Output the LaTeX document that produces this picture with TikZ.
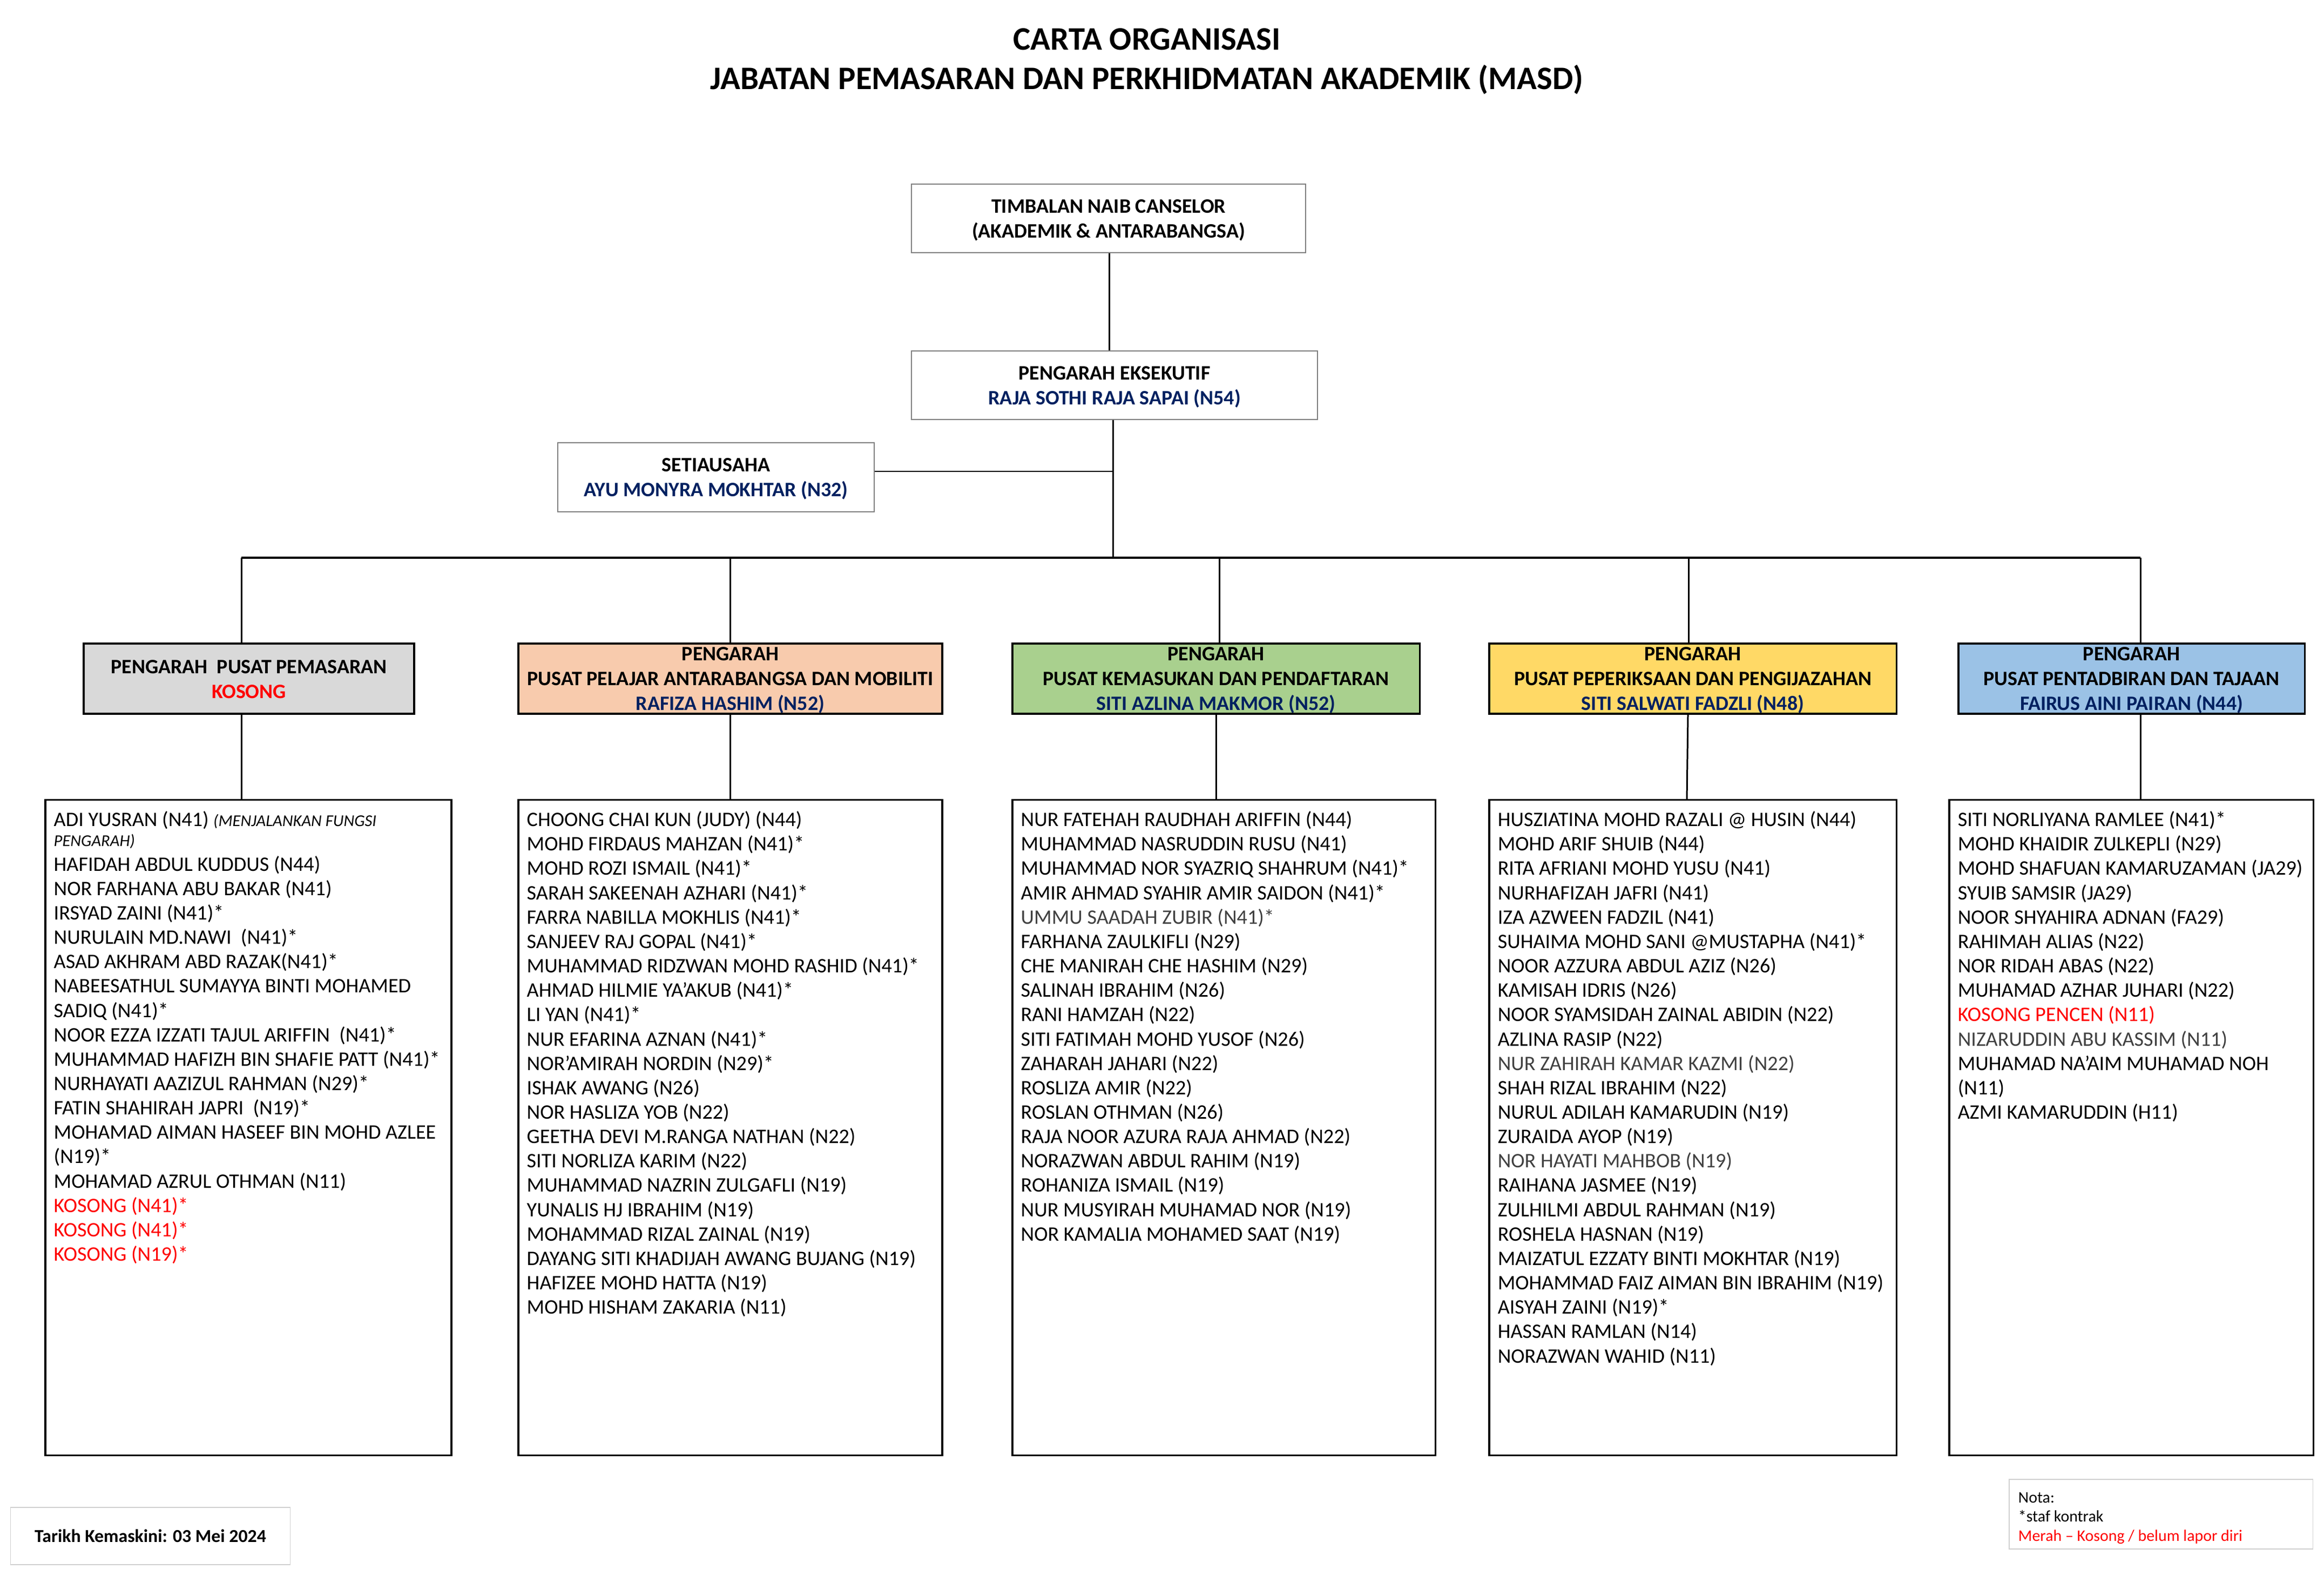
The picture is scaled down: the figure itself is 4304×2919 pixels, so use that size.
\documentclass[tikz,border=0pt]{standalone}
\usepackage{fontspec}
\setmainfont{Carlito}
\usetikzlibrary{calc}
\definecolor{navy}{HTML}{002060}
\definecolor{kred}{HTML}{FF0000}
\definecolor{dgrey}{HTML}{404040}
\definecolor{boxgrey}{HTML}{7F7F7F}
\definecolor{lightframe}{HTML}{D0D0D0}
\definecolor{fillgrey}{HTML}{D9D9D9}
\definecolor{fillpeach}{HTML}{F8CBAD}
\definecolor{fillgreen}{HTML}{A9D08E}
\definecolor{fillyellow}{HTML}{FFD966}
\definecolor{fillblue}{HTML}{9BC2E6}
\newcommand{\nm}[1]{\textcolor{navy}{#1}}
\newcommand{\kr}[1]{\textcolor{kred}{#1}}
\newcommand{\dg}[1]{\textcolor{dgrey}{#1}}
\newcommand{\fst}{\rule{0pt}{0.33cm}}
\newcommand{\hst}{\rule{0pt}{0.31cm}}
\newcommand{\hsts}{\rule{0pt}{0.27cm}}
\begin{document}
\begin{tikzpicture}[x=0.01cm,y=-0.01cm,
  hfont/.style={font=\fontsize{10.8}{13.1}\selectfont\bfseries},
  topbox/.style={draw=boxgrey, line width=0.45pt, fill=white, hfont, align=center, inner sep=0pt},
  dirbox/.style={draw=black, line width=1pt, hfont, align=center, inner sep=0pt, minimum height=1.30cm},
  staffbox/.style={draw=black, line width=1pt, inner sep=0pt, minimum height=12.13cm},
  stafftext/.style={font=\fontsize{10.85}{12.84}\selectfont, align=left, inner sep=0pt, anchor=north west},
  titletext/.style={font=\fontsize{17.3}{20}\selectfont\bfseries, anchor=base, inner sep=0pt},
  conn/.style={line width=0.85pt},
  busline/.style={line width=1.15pt},
  infobox/.style={draw=lightframe, line width=0.35pt, inner sep=0pt}
]
\useasboundingbox (0,0) rectangle (4304,2919);
\fill[white] (0,0) rectangle (4304,2919);

% title
\node[titletext] (title1) at (2124,93) {CARTA ORGANISASI};
\node[titletext] (title2) at (2124,166) {JABATAN PEMASARAN DAN PERKHIDMATAN AKADEMIK (MASD)};

% top boxes
\node[topbox, minimum width=7.30cm, minimum height=1.27cm] (tnc) at (2053,404.5)
  {\hst TIMBALAN NAIB CANSELOR\\(AKADEMIK \& ANTARABANGSA)};
\node[topbox, minimum width=7.52cm, minimum height=1.27cm] (pe) at (2064,713.5)
  {\hst PENGARAH EKSEKUTIF\\\nm{RAJA SOTHI RAJA SAPAI (N54)}};
\node[topbox, minimum width=5.86cm, minimum height=1.28cm] (se) at (1326,884)
  {\hst SETIAUSAHA\\\nm{AYU MONYRA MOKHTAR (N32)}};

% director boxes
\node[dirbox, fill=fillgrey, minimum width=6.12cm] (d1) at (461,1257)
  {\hsts PENGARAH\ \ PUSAT PEMASARAN\\\kr{KOSONG}};
\node[dirbox, fill=fillpeach, minimum width=7.85cm] (d2) at (1352.5,1257)
  {\hst PENGARAH\\PUSAT PELAJAR ANTARABANGSA DAN MOBILITI\\\nm{RAFIZA HASHIM (N52)}};
\node[dirbox, fill=fillgreen, minimum width=7.54cm] (d3) at (2252,1257)
  {\hst PENGARAH\\PUSAT KEMASUKAN DAN PENDAFTARAN\\\nm{SITI AZLINA MAKMOR (N52)}};
\node[dirbox, fill=fillyellow, minimum width=7.54cm] (d4) at (3135,1257)
  {\hst PENGARAH\\PUSAT PEPERIKSAAN DAN PENGIJAZAHAN\\\nm{SITI SALWATI FADZLI (N48)}};
\node[dirbox, fill=fillblue, minimum width=6.41cm] (d5) at (3947.5,1257)
  {\hst PENGARAH\\PUSAT PENTADBIRAN DAN TAJAAN\\\nm{FAIRUS AINI PAIRAN (N44)}};

% staff boxes
\node[staffbox, minimum width=7.52cm] (s1) at (460,2088.5) {};
\node[staffbox, minimum width=7.85cm] (s2) at (1352.5,2088.5) {};
\node[staffbox, minimum width=7.83cm] (s3) at (2266.5,2088.5) {};
\node[staffbox, minimum width=7.54cm] (s4) at (3135,2088.5) {};
\node[staffbox, minimum width=6.74cm] (s5) at (3947,2088.5) {};

% connectors
\coordinate (jt) at (2054,500);
\coordinate (jpe) at (2061,1033);
\coordinate (jse) at (2061,873);
\coordinate (j1) at (447,1033);
\coordinate (j2) at (1352,1033);
\coordinate (j3) at (2258,1033);
\coordinate (j4) at (3127,1033);
\coordinate (j5) at (3964,1033);
\coordinate (k3) at (2252,1400);
\coordinate (k4) at (3124,1400);

\draw[conn] (tnc.south -| jt) -- (pe.north -| jt);
\draw[conn] (pe.south -| jpe) -- (jpe);
\draw[conn] (se.east |- jse) -- (jse);
\draw[busline] (j1) -- (j5);
\draw[conn] (j1) -- (j1 |- d1.north);
\draw[conn] (j2) -- (j2 |- d2.north);
\draw[conn] (j3) -- (j3 |- d3.north);
\draw[conn] (j4) -- (j4 |- d4.north);
\draw[conn] (j5) -- (j5 |- d5.north);
\draw[conn] (d1.south -| j1) -- (j1 |- s1.north);
\draw[conn] (d2.south -| j2) -- (j2 |- s2.north);
\draw[conn] (d3.south -| k3) -- (k3 |- s3.north);
\draw[conn] ($(d4.south -| j4)+(-1,0)$) -- (k4 |- s4.north);
\draw[conn] (d5.south -| j5) -- (j5 |- s5.north);

% staff lists
\node[stafftext] (t1) at ($(s1.north west)+(17,17)$) {%
\fst ADI YUSRAN (N41) {\fontsize{8.7}{10}\selectfont\itshape (MENJALANKAN FUNGSI}\\[-0.078cm]
{\fontsize{8.7}{10}\selectfont\itshape PENGARAH)}\\
HAFIDAH ABDUL KUDDUS (N44)\\
NOR FARHANA ABU BAKAR (N41)\\
IRSYAD ZAINI (N41)*\\
NURULAIN MD.NAWI\ \ (N41)*\\
ASAD AKHRAM ABD RAZAK(N41)*\\
NABEESATHUL SUMAYYA BINTI MOHAMED\\
SADIQ (N41)*\\
NOOR EZZA IZZATI TAJUL ARIFFIN\ \ (N41)*\\
MUHAMMAD HAFIZH BIN SHAFIE PATT (N41)*\\
NURHAYATI AAZIZUL RAHMAN (N29)*\\
FATIN SHAHIRAH JAPRI\ \ (N19)*\\
MOHAMAD AIMAN HASEEF BIN MOHD AZLEE\\
(N19)*\\
MOHAMAD AZRUL OTHMAN (N11)\\
\kr{KOSONG (N41)*}\\
\kr{KOSONG (N41)*}\\
\kr{KOSONG (N19)*}};

\node[stafftext] (t2) at ($(s2.north west)+(17,17)$) {%
\fst CHOONG CHAI KUN (JUDY) (N44)\\
MOHD FIRDAUS MAHZAN (N41)*\\
MOHD ROZI ISMAIL (N41)*\\
SARAH SAKEENAH AZHARI (N41)*\\
FARRA NABILLA MOKHLIS (N41)*\\
SANJEEV RAJ GOPAL (N41)*\\
MUHAMMAD RIDZWAN MOHD RASHID (N41)*\\
AHMAD HILMIE YA'AKUB (N41)*\\
LI YAN (N41)*\\
NUR EFARINA AZNAN (N41)*\\
NOR'AMIRAH NORDIN (N29)*\\
ISHAK AWANG (N26)\\
NOR HASLIZA YOB (N22)\\
GEETHA DEVI M.RANGA NATHAN (N22)\\
SITI NORLIZA KARIM (N22)\\
MUHAMMAD NAZRIN ZULGAFLI (N19)\\
YUNALIS HJ IBRAHIM (N19)\\
MOHAMMAD RIZAL ZAINAL (N19)\\
DAYANG SITI KHADIJAH AWANG BUJANG (N19)\\
HAFIZEE MOHD HATTA (N19)\\
MOHD HISHAM ZAKARIA (N11)};

\node[stafftext] (t3) at ($(s3.north west)+(17,17)$) {%
\fst NUR FATEHAH RAUDHAH ARIFFIN (N44)\\
MUHAMMAD NASRUDDIN RUSU (N41)\\
MUHAMMAD NOR SYAZRIQ SHAHRUM (N41)*\\
AMIR AHMAD SYAHIR AMIR SAIDON (N41)*\\
\dg{UMMU SAADAH ZUBIR (N41)*}\\
FARHANA ZAULKIFLI (N29)\\
CHE MANIRAH CHE HASHIM (N29)\\
SALINAH IBRAHIM (N26)\\
RANI HAMZAH (N22)\\
SITI FATIMAH MOHD YUSOF (N26)\\
ZAHARAH JAHARI (N22)\\
ROSLIZA AMIR (N22)\\
ROSLAN OTHMAN (N26)\\
RAJA NOOR AZURA RAJA AHMAD (N22)\\
NORAZWAN ABDUL RAHIM (N19)\\
ROHANIZA ISMAIL (N19)\\
NUR MUSYIRAH MUHAMAD NOR (N19)\\
NOR KAMALIA MOHAMED SAAT (N19)};

\node[stafftext] (t4) at ($(s4.north west)+(17,17)$) {%
\fst HUSZIATINA MOHD RAZALI @ HUSIN (N44)\\
MOHD ARIF SHUIB (N44)\\
RITA AFRIANI MOHD YUSU (N41)\\
NURHAFIZAH JAFRI (N41)\\
IZA AZWEEN FADZIL (N41)\\
SUHAIMA MOHD SANI @MUSTAPHA (N41)*\\
NOOR AZZURA ABDUL AZIZ (N26)\\
KAMISAH IDRIS (N26)\\
NOOR SYAMSIDAH ZAINAL ABIDIN (N22)\\
AZLINA RASIP (N22)\\
\dg{NUR ZAHIRAH KAMAR KAZMI (N22)}\\
SHAH RIZAL IBRAHIM (N22)\\
NURUL ADILAH KAMARUDIN (N19)\\
ZURAIDA AYOP (N19)\\
\dg{NOR HAYATI MAHBOB (N19)}\\
RAIHANA JASMEE (N19)\\
ZULHILMI ABDUL RAHMAN (N19)\\
ROSHELA HASNAN (N19)\\
MAIZATUL EZZATY BINTI MOKHTAR (N19)\\
MOHAMMAD FAIZ AIMAN BIN IBRAHIM (N19)\\
AISYAH ZAINI (N19)*\\
HASSAN RAMLAN (N14)\\
NORAZWAN WAHID (N11)};

\node[stafftext] (t5) at ($(s5.north west)+(17,17)$) {%
\fst SITI NORLIYANA RAMLEE (N41)*\\
MOHD KHAIDIR ZULKEPLI (N29)\\
MOHD SHAFUAN KAMARUZAMAN (JA29)\\
SYUIB SAMSIR (JA29)\\
NOOR SHYAHIRA ADNAN (FA29)\\
RAHIMAH ALIAS (N22)\\
NOR RIDAH ABAS (N22)\\
MUHAMAD AZHAR JUHARI (N22)\\
\kr{KOSONG PENCEN (N11)}\\
\dg{NIZARUDDIN ABU KASSIM (N11)}\\
MUHAMAD NA'AIM MUHAMAD NOH\\
(N11)\\
AZMI KAMARUDDIN (H11)};

% footer boxes
\node[infobox, minimum width=5.17cm, minimum height=1.06cm,
      font=\fontsize{9.6}{11.5}\selectfont\bfseries] (date) at (278.5,2845)
  {Tarikh Kemaskini: 03 Mei 2024};
\node[infobox, minimum width=5.62cm, minimum height=1.29cm] (nota) at (4002,2804.5) {};
\node[font=\fontsize{8.5}{10.2}\selectfont, align=left, inner sep=0pt, anchor=north west] (notatext)
  at ($(nota.north west)+(17,16)$)
  {\rule{0pt}{0.27cm}Nota:\\*staf kontrak\\\kr{Merah -- Kosong / belum lapor diri}};
\end{tikzpicture}
\end{document}
